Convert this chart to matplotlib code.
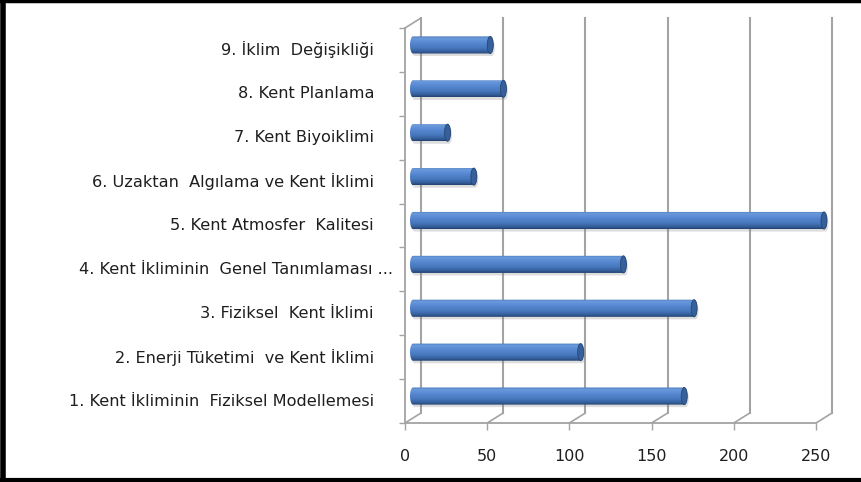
import matplotlib
matplotlib.use("Agg")
import matplotlib.pyplot as plt
import numpy as np
from matplotlib.colors import LinearSegmentedColormap
from matplotlib.lines import Line2D
from matplotlib.patches import ConnectionPatch, Ellipse, PathPatch
from matplotlib.path import Path
from matplotlib.transforms import Affine2D

CATEGORIES = [
    "1. Kent İkliminin  Fiziksel Modellemesi",
    "2. Enerji Tüketimi  ve Kent İklimi",
    "3. Fiziksel  Kent İklimi",
    "4. Kent İkliminin  Genel Tanımlaması ...",
    "5. Kent Atmosfer  Kalitesi",
    "6. Uzaktan  Algılama ve Kent İklimi",
    "7. Kent Biyoiklimi",
    "8. Kent Planlama",
    "9. İklim  Değişikliği",
]
VALUES = [165, 102, 171, 128, 250, 37, 21, 55, 47]
X_TICKS = [0, 50, 100, 150, 200, 250]

W, H, DPI = 861, 482, 100
# plot box of the front plane, in pixels from the top-left corner
AX_LEFT, AX_RIGHT, AX_TOP, AX_BOTTOM = 405, 816, 28, 423
DEPTH = (16, 10)          # shift of the back wall, pixels right / up
BAR_H = 0.39
CAP_PX = 3.0
GRID = "#a3a3a3"
TEXT = "#1e1e1e"

BLUE = LinearSegmentedColormap.from_list("cyl", [
    (0.00, "#4474b6"),
    (0.12, "#6b9bdc"),
    (0.35, "#5889d2"),
    (0.65, "#4879be"),
    (0.88, "#345e9a"),
    (1.00, "#234270"),
])


def shifted(ax, frac):
    return ax.transData + Affine2D().translate(DEPTH[0] * frac, DEPTH[1] * frac)


def cylinder(fig, ax, y, value, trans, cap):
    h = BAR_H / 2
    t_left = np.linspace(np.pi / 2, 3 * np.pi / 2, 30)
    t_right = np.linspace(-np.pi / 2, np.pi / 2, 30)
    xs = np.r_[cap * np.cos(t_left), value + cap * np.cos(t_right)]
    ys = np.r_[y + h * np.sin(t_left), y + h * np.sin(t_right)]
    verts = np.c_[xs, ys]
    path = Path(np.vstack([verts, verts[:1]]), closed=True)

    shadow = PathPatch(path, transform=trans + Affine2D().translate(1.5, -2.5),
                       facecolor="#7a7a7a", edgecolor="none", alpha=0.25,
                       zorder=2, clip_on=False)
    ax.add_patch(shadow)

    body = PathPatch(path, transform=trans, facecolor="none", edgecolor="none",
                     zorder=3, clip_on=False)
    ax.add_patch(body)
    grad = np.linspace(0, 1, 64).reshape(-1, 1)
    im = ax.imshow(grad, cmap=BLUE, aspect="auto", interpolation="bilinear",
                   extent=(-cap, value + cap, y - h, y + h), origin="upper",
                   transform=trans, zorder=3)
    im.set_clip_path(body)
    im.set_clip_box(fig.bbox)

    ax.add_patch(Ellipse((value, y), 2 * cap, BAR_H, transform=trans,
                         facecolor="#36609a", edgecolor="#264676", lw=0.6,
                         zorder=4, clip_on=False))


def main():
    fig = plt.figure(figsize=(W / DPI, H / DPI), dpi=DPI)
    ax = fig.add_axes([AX_LEFT / W, 1 - AX_BOTTOM / H,
                       (AX_RIGHT - AX_LEFT) / W, (AX_BOTTOM - AX_TOP) / H])
    ax.set_facecolor("none")
    n = len(CATEGORIES)
    ax.set_xlim(0, X_TICKS[-1])
    ax.set_ylim(0.5, n + 0.5)
    ax.set_autoscale_on(False)

    back = shifted(ax, 1.0)
    mid = shifted(ax, 0.5)

    # back wall gridlines and the floor edges joining them to the front
    for t in X_TICKS:
        ax.plot([t, t], [0.5, n + 0.5], transform=back, color=GRID, lw=1.5,
                clip_on=False, zorder=1)
        fig.add_artist(ConnectionPatch((t, 0.5), (t, 0.5), coordsA=ax.transData,
                                       coordsB=back, color=GRID, lw=1.2))
    fig.add_artist(ConnectionPatch((0, n + 0.5), (0, n + 0.5), coordsA=ax.transData,
                                   coordsB=back, color=GRID, lw=1.2))

    cap = CAP_PX / ((AX_RIGHT - AX_LEFT) / X_TICKS[-1])
    for i, v in enumerate(VALUES):
        cylinder(fig, ax, i + 1, v, mid, cap)

    for side in ["top", "right"]:
        ax.spines[side].set_visible(False)
    for side in ["left", "bottom"]:
        ax.spines[side].set_color(GRID)
        ax.spines[side].set_linewidth(1.3)

    ax.set_xticks(X_TICKS)
    ax.tick_params(axis="x", length=5, width=1, color=GRID, pad=14,
                   labelsize=11.5, labelcolor=TEXT)
    ax.set_yticks([])
    ax.set_yticks(np.arange(0.5, n + 1, 1), minor=True)
    ax.tick_params(axis="y", which="minor", length=4, width=1, color=GRID)

    for i, label in enumerate(CATEGORIES):
        # the truncated fourth label runs closer to the axis
        gap = 12 if label.endswith("...") else 31
        ax.annotate(label, xy=(0, i + 1), xycoords=("axes fraction", "data"),
                    xytext=(-gap, 0), textcoords="offset pixels",
                    ha="right", va="center", fontsize=11.6, color=TEXT)

    # black frame on the left, top and bottom edges
    fig.add_artist(Line2D([0.003, 0.003], [0, 1], color="black", lw=4, transform=fig.transFigure))
    fig.add_artist(Line2D([0, 1], [0.997, 0.997], color="black", lw=2.5, transform=fig.transFigure))
    fig.add_artist(Line2D([0, 1], [0.004, 0.004], color="black", lw=3, transform=fig.transFigure))

    fig.savefig("out.png", dpi=DPI)
    plt.close(fig)


if __name__ == "__main__":
    main()
